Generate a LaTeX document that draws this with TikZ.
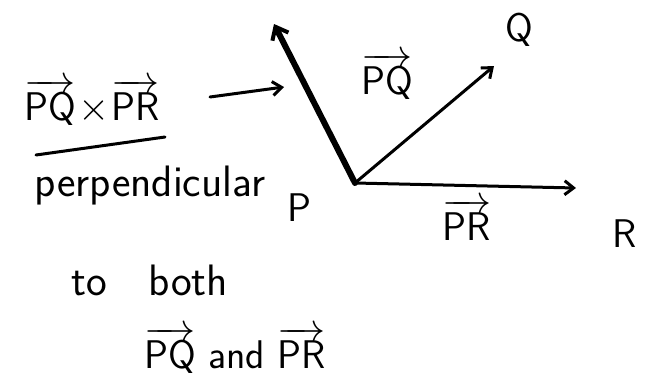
\documentclass[tikz,border=0pt]{standalone}
\usepackage{fix-cm}
\usepackage{fontspec}
\usetikzlibrary{arrows.meta}
\begin{document}
\begin{tikzpicture}[x=1pt,y=-1pt,
  ink/.style={line width=3pt,line cap=round,-{Straight Barb[length=9pt,width=14pt,line width=3pt]}},
  bigink/.style={line width=6pt,line cap=round,-{Straight Barb[length=11pt,width=18pt,line width=4pt]}},
  hand/.style={inner sep=0pt,font=\fontsize{44}{50}\selectfont\sffamily},
  mid/.style={inner sep=0pt,font=\fontsize{40}{46}\selectfont\sffamily},
  lbl/.style={inner sep=0pt,font=\fontsize{40}{46}\selectfont\sffamily}]
\useasboundingbox (0,0) rectangle (649,386);
\coordinate (P) at (355,183);
\coordinate (N) at (274,24);
\coordinate (Qt) at (494,66);
\coordinate (Rt) at (576,188);
\draw[bigink] (P) -- (N);
\draw[ink] (P) -- (Qt);
\draw[ink] (P) -- (Rt);
\node[lbl] (Pl) at (299,208) {P};
\node[lbl] (Ql) at (519,30) {Q};
\node[lbl] (Rl) at (625,234) {R};
\node[mid] (PQl) at (387,76) {$\overrightarrow{\mathsf{PQ}}$};
\node[mid] (PRl) at (467,220) {$\overrightarrow{\mathsf{PR}}$};
\node[mid] (cross) at (92,102) {$\overrightarrow{\mathsf{PQ}}\!\times\!\overrightarrow{\mathsf{PR}}$};
\coordinate (ca) at (210,97);
\coordinate (cb) at (284,87);
\draw[ink] (ca) -- (cb);
\coordinate (u1) at (36,155);
\coordinate (u2) at (165,137);
\draw[line width=3pt,line cap=round] (u1) -- (u2);
\node[hand] (perp) at (150,186) {perpendicular};
\node[hand] (both) at (150,280) {to\ \ \ both};
\node[mid] (pqpr) at (235,350) {$\overrightarrow{\mathsf{PQ}}$ and $\overrightarrow{\mathsf{PR}}$};
\end{tikzpicture}
\end{document}
